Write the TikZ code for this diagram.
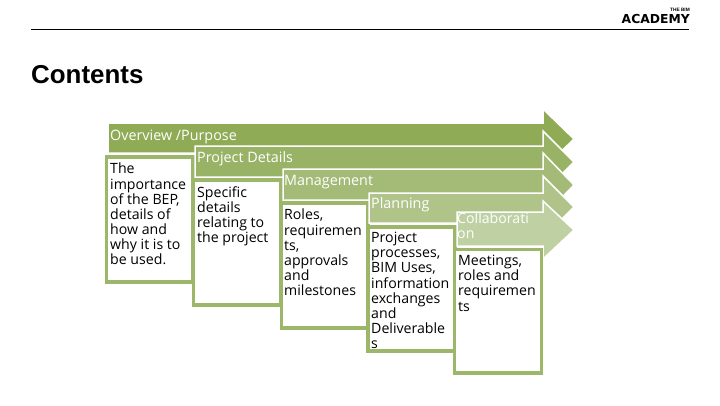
\documentclass[tikz,border=0pt]{standalone}
\usepackage{fontspec}
\setmainfont{Open Sans}
\newfontfamily\headfont{Liberation Sans}
\newfontfamily\logofont{DejaVu Sans}
\definecolor{barA}{HTML}{8FAB56}
\definecolor{barB}{HTML}{99B366}
\definecolor{barC}{HTML}{A3BB76}
\definecolor{barD}{HTML}{B0C48A}
\definecolor{barE}{HTML}{BFD0A2}
\definecolor{edgeG}{HTML}{9CB66A}
\newcommand{\arrowbar}[6]{% x0, top, bottom, headtop, tip y, colour
  \fill[#6,draw=white,line width=1.5bp] (#1,#2) -- (543,#2) -- (543,#4) -- (574,#5) -- (543,2*#5-#4) -- (543,#3) -- (#1,#3) -- cycle;}
\tikzset{
  x=1bp,y=-1bp,
  bartext/.style={anchor=west,text=white,font=\fontsize{14.4}{15}\selectfont,inner sep=0pt},
  bodytext/.style={anchor=north west,align=left,inner sep=0pt,text=black,font=\fontsize{14.2}{15.2}\selectfont},
  framebox/.style={draw=edgeG,line width=3.4bp,fill=white}
}
\begin{document}
\begin{tikzpicture}
\useasboundingbox (0,0) rectangle (720,405);
\fill[white] (0,0) rectangle (720,405);
% header
\coordinate (ruleL) at (31,29);
\coordinate (ruleR) at (689,29);
\draw[black,line width=0.8bp] (ruleL) -- (ruleR);
\node[anchor=base west,inner sep=0pt,font=\headfont\bfseries\fontsize{26}{28}\selectfont] (title) at (31,83) {Contents};
\node[anchor=base east,inner sep=0pt,font=\logofont\bfseries\fontsize{12.4}{14}\selectfont] (logo) at (690,23) {ACADEMY};
\node[anchor=base east,inner sep=0pt,font=\headfont\bfseries\fontsize{4.8}{5}\selectfont] (logosmall) at (690,11.5) {THE BIM};
% layers
\arrowbar{108}{123}{153}{109}{139}{barA}
\draw[framebox] (106.5,157) rectangle (193,282);
\arrowbar{195}{146}{177}{131}{162}{barB}
\draw[framebox] (193.5,180) rectangle (281,305);
\arrowbar{283}{169}{200}{153}{185}{barC}
\draw[framebox] (281.5,203) rectangle (368,328);
\arrowbar{369}{193}{223}{176}{207}{barD}
\draw[framebox] (368,227) rectangle (455,351);
\arrowbar{457}{212}{246}{201}{230}{barE}
\draw[framebox] (454.5,249.5) rectangle (541.5,373);
% labels
\node[bartext] (h1) at (110,137) {Overview /Purpose};
\node[bartext] (h2) at (197,159) {Project Details};
\node[bartext] (h3) at (284,182) {Management};
\node[bartext] (h4) at (371,205) {Planning};
\node[bodytext,text=white] (h5) at (457,212.5) {Collaborati\\on};
\node[bodytext] (b1) at (110,163) {The\\importance\\of the BEP,\\details of\\how and\\why it is to\\be used.};
\node[bodytext] (b2) at (197,186) {Specific\\details\\relating to\\the project};
\node[bodytext] (b3) at (284,209) {Roles,\\requiremen\\ts,\\approvals\\and\\milestones};
\node[bodytext] (b4) at (371,232) {Project\\processes,\\BIM Uses,\\information\\exchanges\\and\\Deliverable\\s};
\node[bodytext] (b5) at (458,255) {Meetings,\\roles and\\requiremen\\ts};
\end{tikzpicture}
\end{document}
